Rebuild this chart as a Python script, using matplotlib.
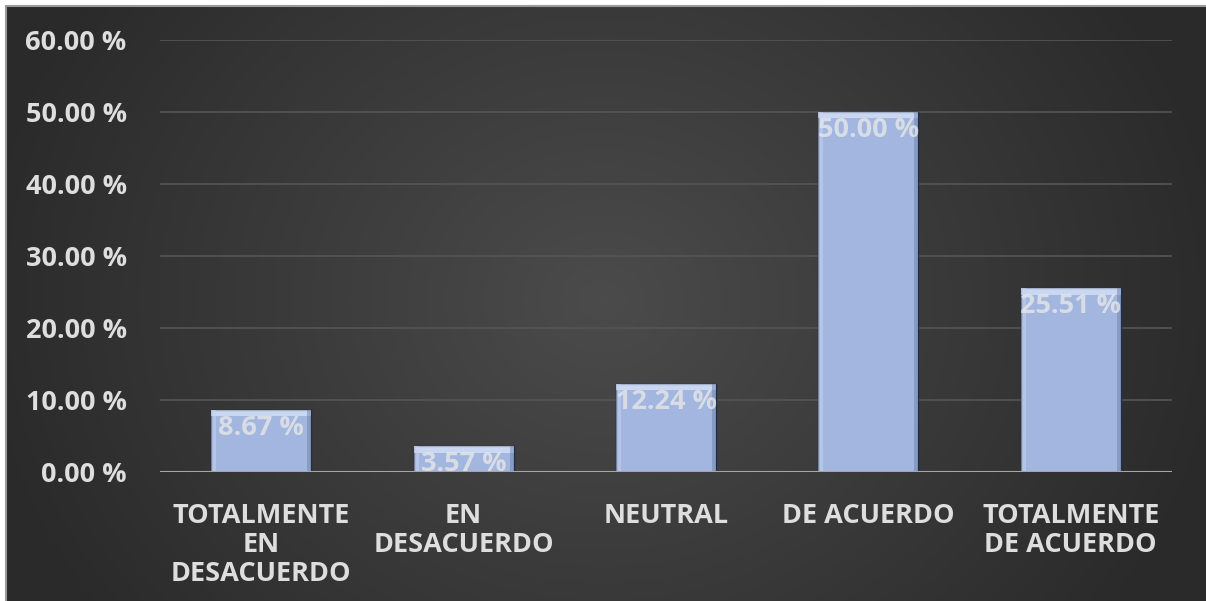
import numpy as np
import matplotlib
matplotlib.use("Agg")
import matplotlib.pyplot as plt
from matplotlib.patches import Rectangle
from matplotlib.lines import Line2D

categories = ["TOTALMENTE\nEN\nDESACUERDO", "EN\nDESACUERDO", "NEUTRAL",
              "DE ACUERDO", "TOTALMENTE\nDE ACUERDO"]
values = [8.67, 3.57, 12.24, 50.00, 25.51]
value_labels = ["8.67 %", "3.57 %", "12.24 %", "50.00 %", "25.51 %"]
yticks = [0, 10, 20, 30, 40, 50, 60]
ytick_labels = ["0.00 %", "10.00 %", "20.00 %", "30.00 %", "40.00 %", "50.00 %", "60.00 %"]

W, H = 1206, 601
fig = plt.figure(figsize=(W / 100, H / 100), dpi=100)
fig.patch.set_facecolor("#2a2a2a")

# background gradient panel
bg = fig.add_axes([0, 0, 1, 1])
bg.set_axis_off()
xx, yy = np.meshgrid(np.linspace(-1, 1, 400), np.linspace(-1, 1, 200))
r = np.sqrt((xx * 0.95) ** 2 + (yy * 0.55) ** 2)
g = np.clip(1 - r, 0, 1)
lo, hi = 0.165, 0.295
img = lo + (hi - lo) * g
bg.imshow(np.dstack([img, img, img]), aspect="auto", extent=[0, W, 0, H],
          interpolation="bilinear")
bg.set_xlim(0, W)
bg.set_ylim(0, H)
# white margins on top and left, with a grey border line
bg.add_patch(Rectangle((0, 0), 5.5, H, facecolor="white", edgecolor="none", zorder=5))
bg.add_patch(Rectangle((0, H - 5.5), W, 5.5, facecolor="white", edgecolor="none", zorder=5))
bg.plot([6.2, 6.2], [0, H - 6.2], color="#9a9a9a", linewidth=1.5, zorder=6)
bg.plot([6.2, W], [H - 6.2, H - 6.2], color="#9a9a9a", linewidth=1.5, zorder=6)

# main axes: x 160..1172 px, y 40..472 px
left, right = 160, 1172
top, bottom = 40, 472
ax = fig.add_axes([left / W, 1 - bottom / H, (right - left) / W, (bottom - top) / H])
ax.set_facecolor("none")
ax.set_xlim(-0.5, len(values) - 0.5)
ax.set_ylim(0, 60)

for y in yticks[1:]:
    ax.axhline(y, color="#555555", linewidth=1.2, zorder=1)
ax.axhline(0, color="#a6a6a6", linewidth=1.5, zorder=4)

x = np.arange(len(values))
bw = 0.495
ax.bar(x, values, width=bw, color="#a2b6df", edgecolor="#1f2d4a",
       linewidth=1.0, zorder=3)
# bevel highlights
for xi, v in zip(x, values):
    ax.add_patch(Rectangle((xi - bw / 2, v - 0.9), bw, 0.9, facecolor="#dbe6fb",
                           edgecolor="none", alpha=0.7, zorder=3.5))
    ax.add_patch(Rectangle((xi - bw / 2, 0), bw * 0.05, v, facecolor="#c6d4ef",
                           edgecolor="none", alpha=0.5, zorder=3.5))
    ax.add_patch(Rectangle((xi + bw / 2 - bw * 0.04, 0), bw * 0.04, v, facecolor="#6f82a8",
                           edgecolor="none", alpha=0.5, zorder=3.5))

font = "Open Sans"
fs = 19.5
for xi, v, lab in zip(x, values, value_labels):
    ax.text(xi, v - 0.7, lab, ha="center", va="top", fontsize=fs, fontweight="bold",
            family=font, color="#e6e6e6", alpha=0.8, zorder=5)

ax.set_yticks(yticks)
ax.set_yticklabels(ytick_labels, family=font, fontsize=fs, fontweight="bold", color="#dedede")
ax.set_xticks(x)
ax.set_xticklabels(categories, family=font, fontsize=fs, fontweight="bold", color="#dedede",
                   linespacing=1.15)
ax.tick_params(axis="y", length=0, pad=24)
ax.tick_params(axis="x", length=0, pad=22)
for s in ax.spines.values():
    s.set_visible(False)

fig.savefig("out.png", dpi=100, facecolor=fig.get_facecolor())
